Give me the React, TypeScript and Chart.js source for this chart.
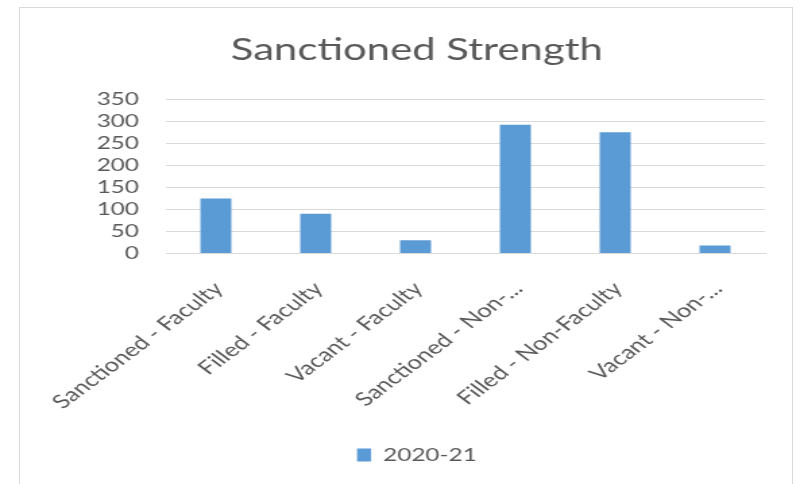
import React, { useEffect, useRef } from "react";
import { Chart, registerables } from "chart.js";

Chart.register(...registerables);

const chartTitle = "Sanctioned Strength";
const seriesLabel = "2020-21";
const categories = [
  "Sanctioned - Faculty",
  "Filled - Faculty",
  "Vacant - Faculty",
  "Sanctioned - Non-...",
  "Filled - Non-Faculty",
  "Vacant - Non-...",
];
const values2020 = [125, 90, 30, 292, 275, 18];
const yMin = 0;
const yMax = 350;
const yStep = 50;

const BASE_W = 593;
const STRETCH = 800 / BASE_W;
const TEXT = "#595959";
const GRID = "#d9d9d9";
const BAR = "#5b9bd5";
const FONT = "Lato";

export default function App() {
  const ref = useRef<HTMLCanvasElement>(null);

  useEffect(() => {
    if (!ref.current) return;
    const chart = new Chart(ref.current, {
      type: "bar",
      data: {
        labels: categories,
        datasets: [
          {
            label: seriesLabel,
            data: values2020,
            backgroundColor: BAR,
            borderWidth: 0,
            barPercentage: 0.31,
            categoryPercentage: 1,
          },
        ],
      },
      options: {
        animation: false,
        responsive: true,
        maintainAspectRatio: false,
        layout: { padding: { left: 51, right: 26, top: 0, bottom: 10 } },
        plugins: {
          title: {
            display: true,
            text: chartTitle,
            color: TEXT,
            font: { family: FONT, size: 31, weight: "normal" },
            padding: { top: 31, bottom: 31 },
          },
          legend: {
            position: "bottom",
            labels: {
              color: TEXT,
              font: { family: FONT, size: 18 },
              boxWidth: 10.4,
              boxHeight: 13,
              padding: 10,
            },
          },
          tooltip: { enabled: false },
        },
        scales: {
          x: {
            grid: { display: false, drawTicks: false },
            border: { display: true, color: GRID, width: 1 },
            ticks: {
              color: TEXT,
              font: { family: FONT, size: 19 },
              minRotation: 45,
              maxRotation: 45,
              autoSkip: false,
              padding: 24,
              labelOffset: 2,
            },
            afterFit: (s: any) => {
              s.height = 182.5;
            },
          },
          y: {
            min: yMin,
            max: yMax,
            ticks: {
              stepSize: yStep,
              autoSkip: false,
              color: TEXT,
              font: { family: FONT, size: 18 },
              padding: 20,
            },
            grid: { color: GRID, drawTicks: false, lineWidth: 1 },
            border: { display: false },
            afterFit: (s: any) => {
              s.width = 72;
            },
          },
        },
      },
    });
    return () => chart.destroy();
  }, []);

  return (
    <div
      style={{
        position: "absolute",
        left: 0,
        top: 0,
        width: 800,
        height: 484,
        overflow: "hidden",
        background: "#fff",
      }}
    >
      <div
        style={{
          position: "absolute",
          left: 19,
          top: 7,
          width: 774,
          height: 520,
          border: `1px solid ${GRID}`,
          boxSizing: "border-box",
        }}
      />
      <div
        style={{
          position: "absolute",
          left: 0,
          top: 0,
          width: BASE_W,
          height: 484,
          transform: `scaleX(${STRETCH})`,
          transformOrigin: "0 0",
        }}
      >
        <canvas ref={ref} />
      </div>
    </div>
  );
}
